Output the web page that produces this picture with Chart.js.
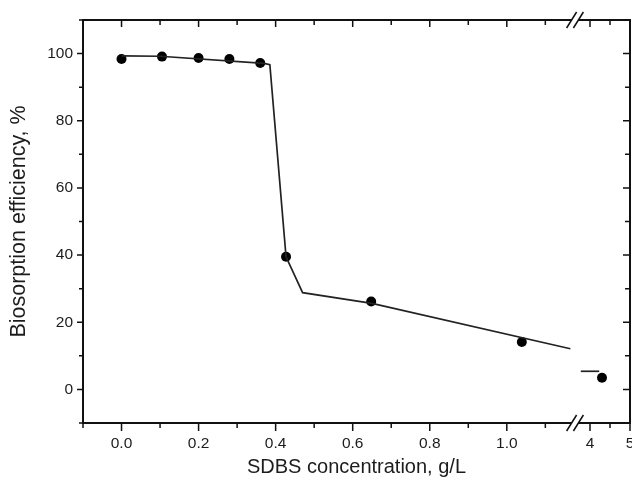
<!DOCTYPE html>
<html>
<head>
<meta charset="utf-8">
<script src="https://cdn.jsdelivr.net/npm/chart.js@4.4.0/dist/chart.umd.min.js"></script>
<style>
  html, body { margin: 0; padding: 0; overflow: hidden; background: #fff; }
  #wrap { position: absolute; left: 0; top: 0; width: 640px; height: 479px; }
</style>
</head>
<body>
<div id="wrap"><canvas id="chart" width="640" height="479"></canvas></div>
<script>
// measured points (low concentration part of the axis)
const ptX1 = [0, 0.105, 0.2, 0.28, 0.36, 0.427, 0.648, 1.039];
const ptY1 = [98.4, 99.1, 98.7, 98.4, 97.2, 39.5, 26.2, 14.1];
// measured point past the axis break
const ptX2 = [4.3];
const ptY2 = [3.5];

// guide line drawn through the data
const lineX1 = [0, 0.1, 0.37, 0.385, 0.427, 0.47, 0.65, 1.165];
const lineY1 = [99.3, 99.2, 97.1, 96.7, 39.5, 28.8, 25.6, 12.1];
const lineX2 = [3.77, 4.23];
const lineY2 = [5.4, 5.4];

// ticks
const xMajor1 = [0, 0.2, 0.4, 0.6, 0.8, 1.0];
const xMinor1 = [-0.1, 0.1, 0.3, 0.5, 0.7, 0.9, 1.1];
const xMajor2 = [4, 5];
const xMinor2 = [4.5];
const yMajor = [0, 20, 40, 60, 80, 100];
const yMinor = [-10, 10, 30, 50, 70, 90, 110];

const FONT = 'Liberation Sans, Arial, sans-serif';
const INK = '#1c1c1c';

const toXY = (xs, ys) => xs.map((x, i) => ({ x: x, y: ys[i] }));
const allTicks = (a, b) => a.concat(b).sort((p, q) => p - q).map(v => ({ value: v }));

// draws the frame, the mirrored ticks, the axis break and the x title
const framePlugin = {
  id: 'frame',
  afterDraw(chart) {
    const { ctx, chartArea: a, scales } = chart;
    ctx.save();
    ctx.strokeStyle = '#111';
    ctx.lineWidth = 1.5;
    ctx.beginPath();
    [[scales.x, xMajor1], [scales.x2, xMajor2]].forEach(([s, major]) => {
      s.ticks.forEach(t => {
        const px = s.getPixelForValue(t.value);
        const big = major.includes(t.value);
        ctx.moveTo(px, a.bottom); ctx.lineTo(px, a.bottom + (big ? 8 : 5));
        ctx.moveTo(px, a.top); ctx.lineTo(px, a.top + (big ? 7 : 5));
      });
    });
    scales.y.ticks.forEach(t => {
      const py = scales.y.getPixelForValue(t.value);
      const big = yMajor.includes(t.value);
      ctx.moveTo(a.left, py); ctx.lineTo(a.left - (big ? 6 : 4), py);
      ctx.moveTo(a.right, py); ctx.lineTo(a.right - (big ? 7 : 5), py);
    });
    ctx.stroke();

    ctx.lineWidth = 2;
    ctx.strokeRect(a.left, a.top, a.right - a.left, a.bottom - a.top);

    // axis break "//"
    const bx = scales.x.right;
    [a.top, a.bottom].forEach(y0 => {
      ctx.fillStyle = '#fff';
      ctx.fillRect(bx - 3.4, y0 - 2, 6.8, 4);
      ctx.lineWidth = 1.5;
      ctx.beginPath();
      [-3.4, 3.4].forEach(d => {
        ctx.moveTo(bx + d - 5, y0 + 8);
        ctx.lineTo(bx + d + 5, y0 - 8);
      });
      ctx.stroke();
    });

    ctx.fillStyle = INK;
    ctx.font = '20px ' + FONT;
    ctx.textAlign = 'center';
    ctx.textBaseline = 'middle';
    ctx.fillText('SDBS concentration, g/L', (a.left + a.right) / 2, 467);
    ctx.restore();
  }
};

const tickFont = { family: FONT, size: 15.5 };

new Chart(document.getElementById('chart'), {
  type: 'scatter',
  data: {
    datasets: [
      { data: toXY(lineX1, lineY1), xAxisID: 'x', showLine: true, pointRadius: 0,
        borderColor: '#222', borderWidth: 1.7 },
      { data: toXY(ptX1, ptY1), xAxisID: 'x', pointRadius: 5, pointHoverRadius: 5,
        backgroundColor: '#000', borderColor: '#000', borderWidth: 0 },
      { data: toXY(lineX2, lineY2), xAxisID: 'x2', showLine: true, pointRadius: 0,
        borderColor: '#222', borderWidth: 1.7 },
      { data: toXY(ptX2, ptY2), xAxisID: 'x2', pointRadius: 5, pointHoverRadius: 5,
        backgroundColor: '#000', borderColor: '#000', borderWidth: 0 }
    ]
  },
  options: {
    responsive: false,
    animation: false,
    layout: { padding: { left: 0, right: 10, top: 20, bottom: 0 } },
    plugins: { legend: { display: false }, tooltip: { enabled: false } },
    scales: {
      x: {
        type: 'linear', position: 'bottom', stack: 'bottom', stackWeight: 492,
        min: -0.1, max: 1.177,
        afterBuildTicks: s => { s.ticks = allTicks(xMajor1, xMinor1); },
        afterFit: s => { s.height = 56; },
        grid: { display: false, drawTicks: true, tickLength: 8 },
        border: { display: false },
        ticks: { font: tickFont, color: INK, padding: 3, autoSkip: false, maxRotation: 0,
          callback: v => xMajor1.includes(v) ? v.toFixed(1) : '' }
      },
      x2: {
        type: 'linear', position: 'bottom', stack: 'bottom', stackWeight: 55,
        min: 3.625, max: 5,
        afterBuildTicks: s => { s.ticks = allTicks(xMajor2, xMinor2); },
        afterFit: s => { s.height = 56; },
        grid: { display: false, drawTicks: true, tickLength: 8 },
        border: { display: false },
        ticks: { font: tickFont, color: INK, padding: 3, autoSkip: false, maxRotation: 0,
          callback: v => xMajor2.includes(v) ? String(v) : '' }
      },
      y: {
        type: 'linear', position: 'left', min: -10, max: 110,
        afterBuildTicks: s => { s.ticks = allTicks(yMajor, yMinor); },
        afterFit: s => { s.width = 83; },
        grid: { display: false, drawTicks: true, tickLength: 6 },
        border: { display: false },
        ticks: { font: tickFont, color: INK, padding: 4, autoSkip: false,
          callback: v => yMajor.includes(v) ? String(v) : '' },
        title: { display: true, text: 'Biosorption efficiency, %', color: INK,
          font: { family: FONT, size: 21.5 }, padding: { top: 6, bottom: 0 } }
      }
    }
  },
  plugins: [framePlugin]
});
</script>
</body>
</html>
